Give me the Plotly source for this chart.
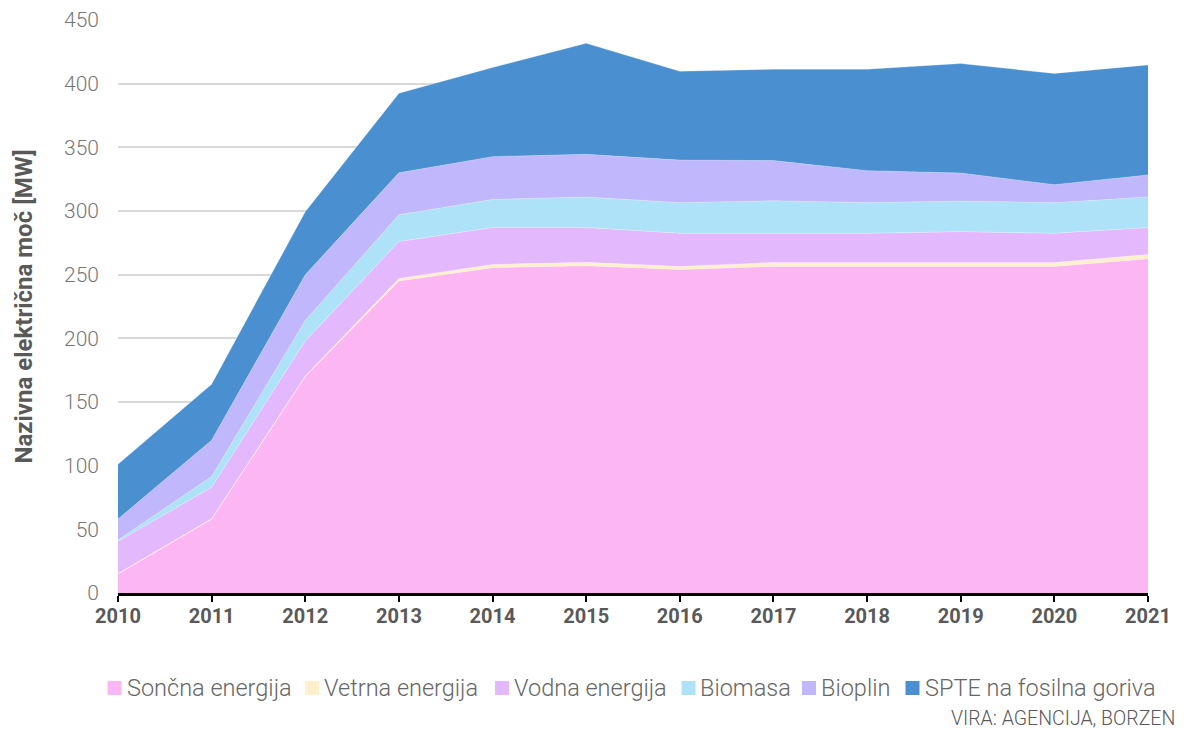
import plotly.graph_objects as go

years = [2010, 2011, 2012, 2013, 2014, 2015, 2016, 2017, 2018, 2019, 2020, 2021]
soncna = [15, 58, 170, 245, 255.5, 257, 254, 256.5, 256.5, 256.5, 256.5, 262.5]
vetrna = [0.3, 0.4, 0.5, 2, 2.5, 2.7, 2.5, 3, 3, 3, 3, 3.3]
vodna = [25.3, 24.6, 27.5, 29, 29, 27.3, 26, 23, 23, 24.3, 23, 21.2]
biomasa = [1, 8.5, 16, 21, 22, 24, 24, 25.5, 24, 24, 24, 24]
bioplin = [16.5, 28.5, 36, 33, 33.7, 33.5, 33.5, 31.6, 25.2, 22, 14.2, 17.3]
spte = [43, 44, 49.5, 62.4, 70, 87.2, 69.7, 71.7, 79.6, 86, 87.3, 86.4]

names = ["Sončna energija", "Vetrna energija", "Vodna energija", "Biomasa",
         "Bioplin", "SPTE na fosilna goriva"]
values = [soncna, vetrna, vodna, biomasa, bioplin, spte]
colors = ["#FDB6F4", "#FFF0CC", "#E4B8FC", "#AEE2F8", "#C1B7FD", "#4A8FD0"]

# figure size kept inside the viewport (page body has an 8px margin)
W, H = 1169, 722
PL, PR, PT, PB = 118, 1148, 20, 593   # plot area in screen pixels
def px(x):
    return (x - PL) / (PR - PL)
def py(y):
    return (PB - y) / (PB - PT)

fig = go.Figure()
for name, vals, col in zip(names, values, colors):
    fig.add_trace(go.Scatter(
        x=years, y=vals, name=name, stackgroup="one", mode="lines",
        line=dict(width=0.5, color="rgba(255,255,255,0.5)"), fillcolor=col,
        showlegend=False, hoverinfo="x+y+name",
    ))

# manual legend: squares + labels (screen positions)
sq_left = [107.5, 305, 495, 681.5, 802, 905.5]
txt_left = [125, 322, 512, 698, 819, 923]
shapes = []
annotations = []
for i, (name, col) in enumerate(zip(names, colors)):
    shapes.append(dict(type="rect", xref="paper", yref="paper",
                       x0=px(sq_left[i]), x1=px(sq_left[i] + 14),
                       y0=py(695), y1=py(681), line=dict(width=0), fillcolor=col))
    annotations.append(dict(text=name, xref="paper", yref="paper",
                            x=px(txt_left[i]), y=py(688), xanchor="left", yanchor="middle",
                            showarrow=False,
                            font=dict(size=23.5, color="#666666", family="Roboto", weight=300)))

annotations.append(dict(
    text="VIRA: AGENCIJA, BORZEN", xref="paper", yref="paper",
    x=px(1177), y=py(718), xanchor="right", yanchor="middle", showarrow=False,
    font=dict(size=19.5, color="#595959", family="Roboto", weight=300),
))

fig.update_layout(
    width=W, height=H,
    paper_bgcolor="white", plot_bgcolor="white",
    margin=dict(l=PL - 8, r=W - (PR - 8), t=PT - 8, b=H - (PB - 8), pad=0,
                autoexpand=False),
    font=dict(family="Roboto", color="#666666"),
    showlegend=False,
    xaxis=dict(
        range=[2010, 2021], tickmode="array", tickvals=years,
        ticktext=[str(y) for y in years],
        showgrid=False, showline=True, linecolor="black", linewidth=2.5,
        ticks="outside", ticklen=6, tickcolor="black", tickwidth=2,
        tickfont=dict(size=20, color="#595959", family="Roboto", weight="bold"),
        ticklabelstandoff=-3, automargin=False,
        zeroline=False,
    ),
    yaxis=dict(
        range=[0, 450], tickvals=[0, 50, 100, 150, 200, 250, 300, 350, 400, 450],
        showgrid=True, gridcolor="#D9D9D9", gridwidth=2,
        zeroline=False, showline=False, ticks="", automargin=False,
        tickfont=dict(size=21, color="#777777", family="Roboto", weight=300),
        ticklabelstandoff=18,
        title=dict(text="Nazivna električna moč [MW]", standoff=24,
                   font=dict(size=24, color="#595959", family="Roboto", weight="bold")),
    ),
    shapes=shapes,
    annotations=annotations,
)

fig.write_html("out.html")
